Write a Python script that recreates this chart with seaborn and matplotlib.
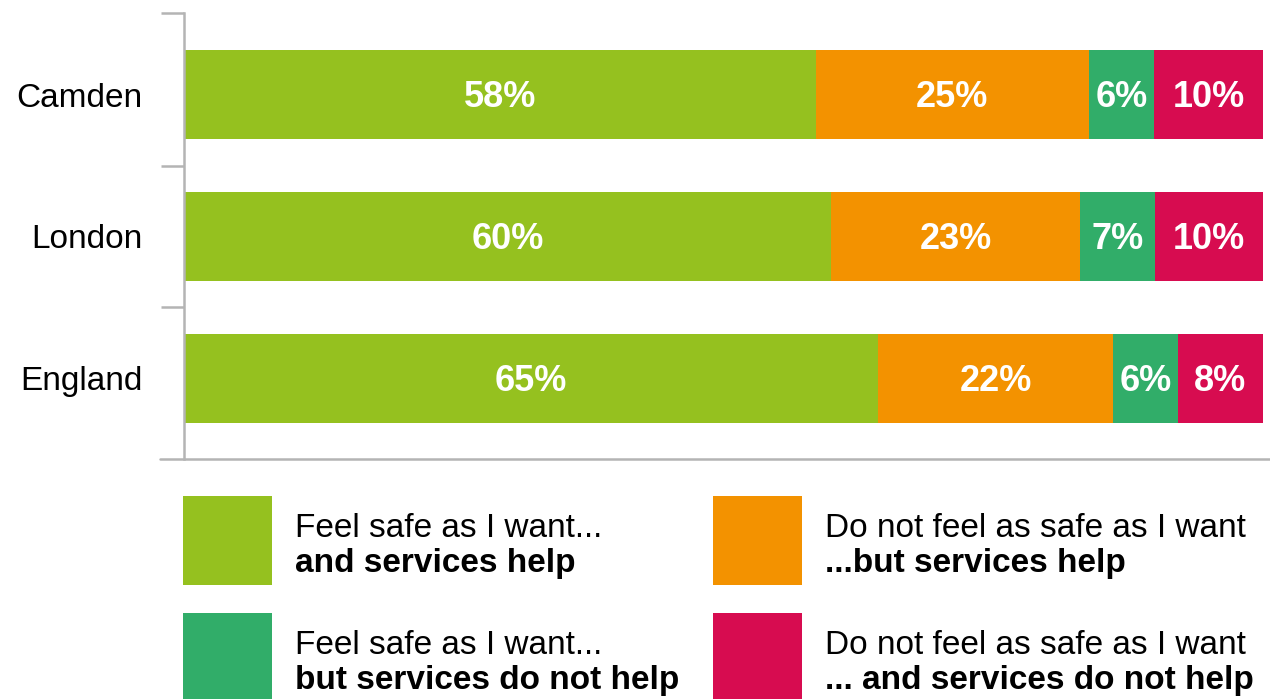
import numpy as np
import pandas as pd
import matplotlib
matplotlib.use("Agg")
import matplotlib.pyplot as plt
import seaborn as sns
from matplotlib.patches import Rectangle
from matplotlib.lines import Line2D

# Survey responses by area (percent of respondents)
regions = ["Camden", "London", "England"]
safe_help = [58, 60, 65]
unsafe_help = [25, 23, 22]
safe_nohelp = [6, 7, 6]
unsafe_nohelp = [10, 10, 8]

legend_line1 = ["Feel safe as I want...", "Do not feel as safe as I want",
                "Feel safe as I want...", "Do not feel as safe as I want"]
legend_line2 = ["and services help", "...but services help",
                "but services do not help", "... and services do not help"]
colors = ["#95C11F", "#F39200", "#31AD69", "#D70C50"]

series = [safe_help, unsafe_help, safe_nohelp, unsafe_nohelp]

sns.set_theme(style="white")
plt.rcParams["font.family"] = ["Liberation Sans", "DejaVu Sans"]

W, H = 1270, 699
fig = plt.figure(figsize=(W / 100, H / 100), dpi=100)
ax = fig.add_axes([184 / W, 1 - 459 / H, (1263 - 184) / W, (459 - 13) / H])

# Each row rescaled so the stacked segments fill the full bar
vals = np.array(series, dtype=float)          # shape (4, 3)
shares = vals / vals.sum(axis=0) * 100
cum = np.cumsum(shares, axis=0)

# Draw cumulative bars from longest to shortest so each segment shows through
for k in range(len(series) - 1, -1, -1):
    df = pd.DataFrame({"region": regions, "end": cum[k]})
    sns.barplot(data=df, x="end", y="region", order=regions, orient="h",
                color=colors[k], saturation=1, width=0.627, linewidth=0,
                errorbar=None, ax=ax)

# Value labels inside segments
for k in range(len(series)):
    for i in range(len(regions)):
        start = cum[k, i] - shares[k, i]
        ax.text(start + shares[k, i] / 2, i - 0.01, f"{series[k][i]}%",
                ha="center", va="center_baseline", color="white",
                fontsize=26, fontweight="bold")

ytop, ybot = -0.574, 2.567
ax.set_xlim(0, 100)
ax.set_ylim(ybot, ytop)
ax.set_xlabel("")
ax.set_ylabel("")
ax.set_xticks([])

gray = "#b4b4b4"
for s in ["top", "right", "bottom"]:
    ax.spines[s].set_visible(False)
ax.spines["left"].set_color(gray)
ax.spines["left"].set_linewidth(1.8)

ax.set_yticks(range(len(regions)))
ax.set_yticklabels(regions, va="center_baseline")
ax.set_yticks([ytop + 0.001, 0.5, 1.5], minor=True)
ax.tick_params(axis="y", which="major", length=0, pad=30, labelsize=24,
               labelcolor="black")
ax.tick_params(axis="y", which="minor", left=True, length=23 * 0.72,
               width=1.8, color=gray)

# Baseline running under the bars and past the axis
fig.add_artist(Line2D([160 / W, 1270 / W], [1 - 459 / H] * 2,
                      transform=fig.transFigure, color=gray, lw=1.8))

# Legend: 2 x 2 grid of swatches with two-line captions
swatch_x = [183, 713, 183, 713]
swatch_y = [496, 496, 613, 613]
size = 89
for k in range(4):
    x0, y0 = swatch_x[k], swatch_y[k]
    fig.add_artist(Rectangle((x0 / W, 1 - (y0 + size) / H), size / W, size / H,
                             transform=fig.transFigure, color=colors[k], lw=0))
    tx = (x0 + 112) / W
    fig.text(tx, 1 - (y0 + 41) / H, legend_line1[k], fontsize=24,
             va="baseline", ha="left", color="black")
    fig.text(tx, 1 - (y0 + 76) / H, legend_line2[k], fontsize=24,
             va="baseline", ha="left", color="black", fontweight="bold")

fig.savefig("out.png", dpi=100)
